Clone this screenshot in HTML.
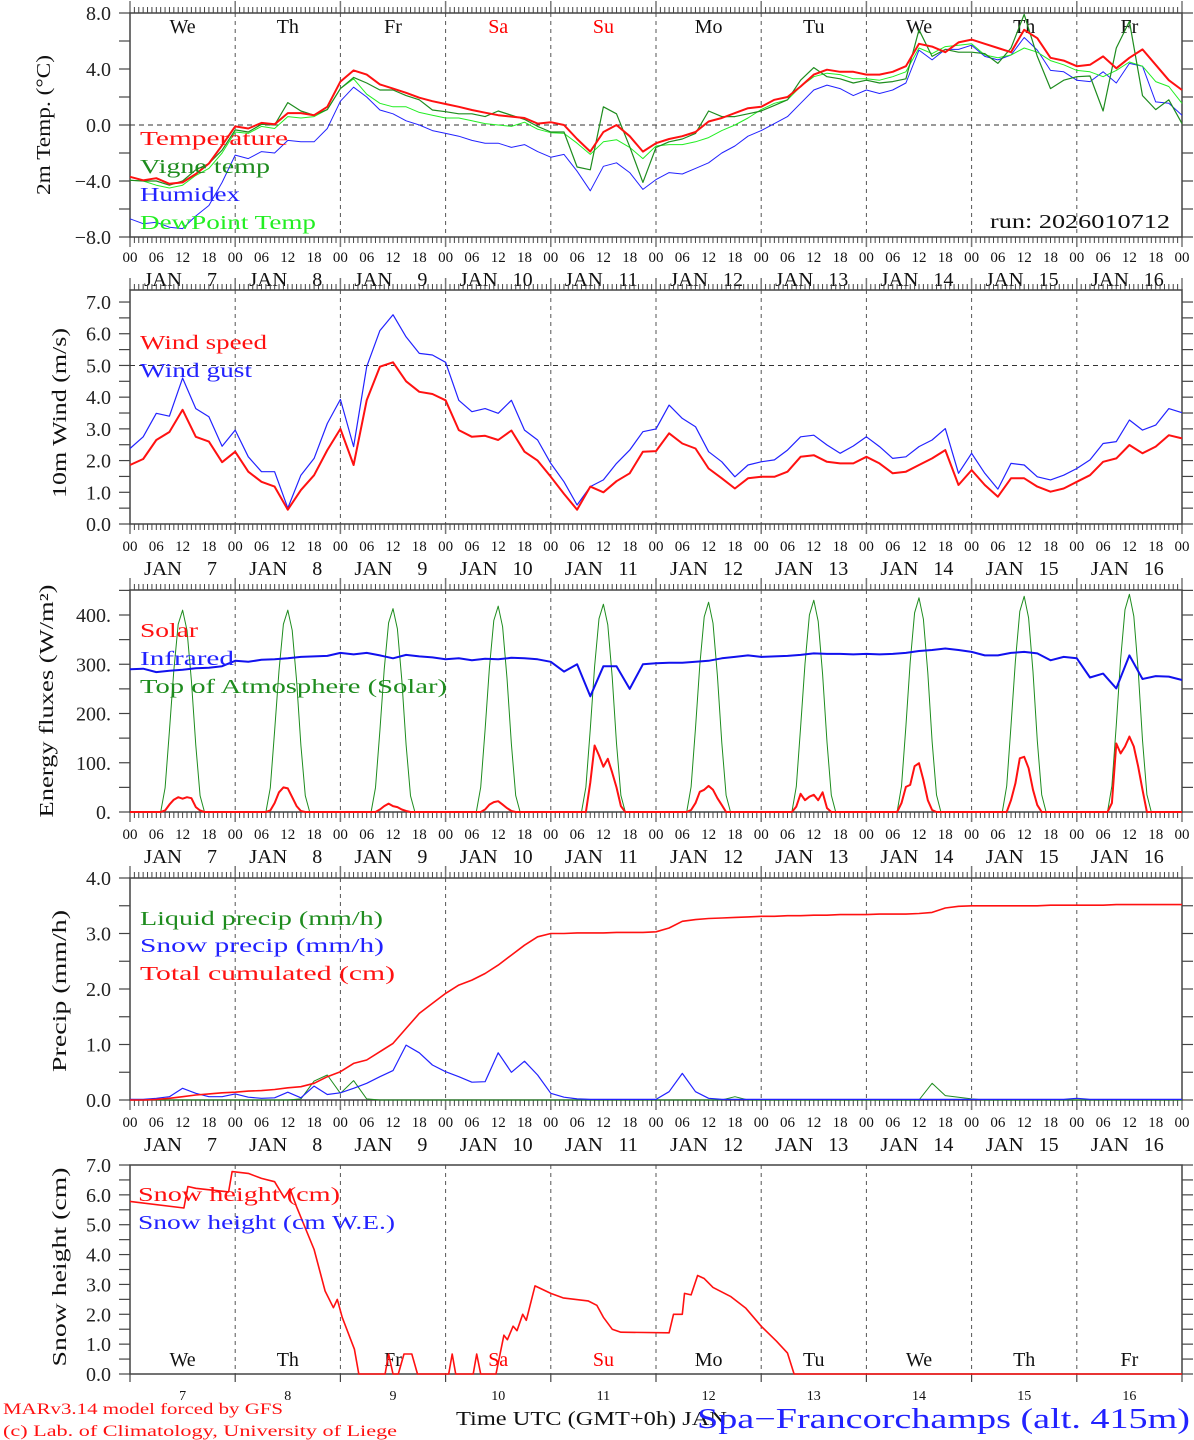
<!DOCTYPE html>
<html><head><meta charset="utf-8"><title>Spa-Francorchamps meteogram</title>
<style>
html,body{margin:0;padding:0;background:#fff;}
svg{display:block;font-family:"Liberation Serif","DejaVu Serif",serif;}
</style></head>
<body>
<svg id="chart" xmlns="http://www.w3.org/2000/svg" width="1194" height="1440" viewBox="0 0 1194 1440">
<rect x="0" y="0" width="1194" height="1440" fill="#fff"/>
</svg>
<script>
// ---------- DATA (3-hourly, 81 values from Jan 7 00h to Jan 17 00h) ----------
const dayNames = ['We','Th','Fr','Sa','Su','Mo','Tu','We','Th','Fr'];
const dayNums = ['7','8','9','10','11','12','13','14','15','16'];
const hourLabels = ['00','06','12','18'];
const tempRed = [-3.7,-3.95,-3.8,-4.2,-4.1,-3.5,-2.75,-1.45, -0.1,-0.25,0.15,0.05,0.85,0.85,0.7,1.3, 3.1,3.9,3.6,2.9,2.6,2.3,1.95,1.7, 1.5,1.3,1.07,0.88,0.7,0.6,0.5,0.1, 0.2,0.0,-1.0,-1.9,-0.5,0.0,-0.8,-1.9, -1.3,-1.0,-0.8,-0.5,0.25,0.5,0.85,1.2, 1.3,1.8,2.0,2.75,3.6,3.95,3.8,3.8, 3.6,3.6,3.8,4.2,5.8,5.6,5.2,5.9, 6.1,5.8,5.5,5.2,6.8,6.2,4.8,4.6, 4.2,4.3,4.9,4.05,4.8,5.4,4.3,3.2, 2.5];
const tempVigne = [-3.95,-4.0,-4.0,-4.3,-4.0,-3.2,-2.75,-1.8, -0.35,-0.5,0.05,0.0,1.6,1.0,0.7,1.1, 2.6,3.4,3.0,2.5,2.5,2.1,1.8,1.07, 0.95,0.8,0.8,0.6,1.0,0.7,0.4,-0.1, -0.5,-0.5,-3.0,-3.2,1.3,0.8,-1.55,-4.1, -1.6,-1.2,-1.0,-0.6,1.0,0.6,0.6,0.8, 1.0,1.4,1.8,3.2,4.1,3.45,3.3,3.0, 3.2,3.0,3.1,3.3,6.8,4.9,5.4,5.2, 5.2,5.1,4.4,5.5,7.9,4.9,2.6,3.2, 3.45,3.5,1.0,5.5,7.4,2.1,1.1,1.8, 0.1];
const tempHumidex = [-6.7,-7.05,-6.95,-7.3,-7.4,-6.5,-5.75,-4.1, -2.15,-2.4,-1.9,-2.0,-1.1,-1.2,-1.2,-0.25, 1.7,2.7,2.0,1.07,0.8,0.3,0.0,-0.4, -0.6,-0.8,-1.1,-1.3,-1.3,-1.6,-1.4,-1.9, -2.3,-2.1,-3.3,-4.7,-2.95,-2.7,-3.4,-4.6, -3.9,-3.4,-3.5,-3.1,-2.7,-2.0,-1.5,-0.8, -0.4,0.1,0.6,1.55,2.5,2.85,2.6,2.1, 2.5,2.25,2.5,3.0,5.35,4.65,5.4,5.4, 5.7,4.9,4.65,5.0,6.25,5.35,3.9,3.8, 3.2,3.1,3.8,3.0,4.4,4.2,1.65,1.55, 0.7];
const tempDew = [-3.95,-4.0,-4.3,-4.5,-4.3,-3.6,-3.1,-2.0, -0.5,-0.6,-0.1,-0.25,0.6,0.5,0.6,1.1, 2.6,3.3,2.2,1.55,1.3,1.3,0.9,0.7, 0.5,0.5,0.3,0.1,0.0,-0.1,0.2,-0.3, -0.55,-0.6,-1.3,-2.1,-1.2,-1.05,-1.6,-2.4, -1.5,-1.4,-1.4,-1.2,-0.9,-0.4,0.0,0.5, 1.1,1.55,1.8,2.75,3.45,3.7,3.6,3.3, 3.3,3.2,3.45,3.8,5.5,5.1,5.6,5.7, 5.8,5.0,4.8,5.0,5.5,5.2,4.6,4.3, 3.9,3.8,3.45,3.9,4.5,4.2,3.1,2.75, 1.55];
const windSpeed = [1.86,2.05,2.65,2.9,3.6,2.75,2.6,1.95, 2.28,1.65,1.33,1.18,0.45,1.07,1.54,2.33, 3.0,1.86,3.9,4.96,5.1,4.5,4.17,4.1, 3.9,2.96,2.75,2.78,2.65,2.95,2.28,2.0, 1.49,0.95,0.45,1.18,1.0,1.35,1.6,2.28, 2.3,2.86,2.54,2.38,1.75,1.44,1.12,1.44, 1.49,1.49,1.65,2.12,2.17,1.96,1.91,1.91, 2.12,1.91,1.6,1.65,1.86,2.07,2.33,1.23, 1.7,1.23,0.86,1.44,1.44,1.18,1.02,1.12, 1.33,1.54,1.96,2.07,2.49,2.23,2.44,2.8, 2.7];
const windGust = [2.38,2.75,3.49,3.4,4.6,3.64,3.38,2.45, 2.96,2.12,1.65,1.65,0.5,1.54,2.07,3.17, 3.93,2.44,4.96,6.1,6.6,5.9,5.38,5.33, 5.1,3.9,3.54,3.64,3.49,3.9,2.96,2.65, 1.91,1.33,0.6,1.18,1.39,1.91,2.33,2.91, 3.0,3.75,3.33,3.07,2.28,1.96,1.49,1.86, 1.96,2.02,2.33,2.75,2.8,2.49,2.23,2.46, 2.75,2.44,2.07,2.12,2.44,2.65,3.01,1.6, 2.23,1.6,1.1,1.91,1.86,1.49,1.39,1.54, 1.75,2.02,2.54,2.6,3.28,2.96,3.12,3.64, 3.51];
const infrared = [290,291,284,287,289,292,293,296, 307,305,309,310,312,315,316,317, 323,320,323,318,312,319,316,314, 310,312,308,311,310,313,312,310, 305,285,300,235,296,296,250,300, 302,303,303,305,307,312,315,318, 315,316,317,319,322,321,321,320, 321,320,321,323,327,329,332,329, 325,318,318,323,325,322,308,315, 312,273,281,251,318,270,276,275, 268];
// solar (W/m2) for hours 8..16 of each day
const solarDay7 = [3,15,25,30,27,30,28,10,3];
const solarDay8 = [3,18,40,50,48,30,12,2,0];
const solarDay9 = [0,5,12,17,12,10,5,2,0];
const solarDay10 = [0,5,15,20,22,15,8,2,0];
const solarDay11 = [0,60,135,115,92,108,80,50,12];
const solarDay12 = [4,18,41,45,53,45,28,14,0];
const solarDay13 = [11,37,24,31,35,24,40,8,0];
const solarDay14 = [18,51,55,93,99,65,24,4,0];
const solarDay15 = [0,24,58,109,112,89,45,14,0];
const solarDay16 = [18,139,119,133,153,133,92,45,0];
const toaPeaks = [410,410,413,418,422,426,430,435,438,442];
const toaProfile = [0,0.12,0.4,0.7,0.93,1.0,0.9,0.65,0.33,0.08,0];
const cumPrecip = [0,0,0.01,0.03,0.06,0.09,0.11,0.13, 0.14,0.16,0.17,0.19,0.22,0.24,0.3,0.42, 0.51,0.66,0.72,0.87,1.02,1.29,1.56,1.74, 1.92,2.07,2.16,2.28,2.43,2.61,2.79,2.94, 3.0,3.0,3.01,3.01,3.01,3.02,3.02,3.02, 3.03,3.1,3.22,3.25,3.27,3.28,3.29,3.3, 3.31,3.31,3.32,3.32,3.33,3.33,3.34,3.34, 3.34,3.35,3.35,3.35,3.36,3.38,3.46,3.49, 3.5,3.5,3.5,3.5,3.5,3.5,3.51,3.51, 3.51,3.51,3.51,3.52,3.52,3.52,3.52,3.52, 3.52];
const snowPrecip = [0.01,0.01,0.03,0.06,0.21,0.12,0.06,0.06, 0.11,0.05,0.03,0.04,0.14,0.04,0.25,0.1, 0.13,0.21,0.3,0.42,0.53,0.99,0.85,0.63, 0.51,0.42,0.32,0.33,0.85,0.5,0.7,0.45, 0.12,0.05,0.02,0.01,0.01,0.01,0.01,0.01, 0.01,0.15,0.48,0.15,0.03,0.01,0.01,0.01, 0.01,0.01,0.01,0.01,0.01,0.01,0.01,0.01, 0.01,0.01,0.01,0.01,0.01,0.01,0.01,0.01, 0.01,0.01,0.01,0.01,0.01,0.01,0.01,0.01, 0.03,0.01,0.01,0.01,0.01,0.01,0.01,0.01, 0.01];
const liquidPrecip = [0,0,0,0,0,0,0,0, 0,0,0,0,0,0.02,0.34,0.45, 0.12,0.35,0.02,0,0,0,0,0, 0,0,0,0,0,0,0,0, 0,0,0,0,0,0,0,0, 0,0,0,0,0,0,0.06,0, 0,0,0,0,0,0,0,0, 0,0,0,0,0,0.3,0.08,0.05, 0.02,0,0,0,0,0,0,0, 0,0,0,0,0,0,0,0, 0];
const snowHours = [0,12.3,13.2,15,22.5,23.3,27,30,33,35.2,36.5,38,42,44.5,46.4,47.3,48.4,51.2,52.2,58.2,59,60,61.2,62.5,64.3,65.6,72.7,73.5,74.3,78.3,79.1,80,83.5,85.3,86.1,87.4,88.3,89.6,90.4,92.4,96,98.8,104.5,106.5,108,110,112,123,124,126,126.5,128,129.5,131,133,137,140.5,144,147.5,150,151.5,240];
const snowCm = [5.78,5.56,6.28,6.22,6.1,6.78,6.72,6.55,6.44,5.9,6.2,5.6,4.17,2.78,2.22,2.5,1.9,0.83,0,0,0.67,0,0,0.67,0.67,0,0,0.67,0,0,0.67,0,0,1.3,1.15,1.6,1.45,2.0,1.8,2.95,2.7,2.55,2.45,2.3,1.9,1.5,1.4,1.38,2.0,2.0,2.7,2.65,3.3,3.2,2.9,2.6,2.2,1.6,1.1,0.7,0,0];

// ---------- HELPERS ----------
const NS = 'http://www.w3.org/2000/svg';
const svg = document.getElementById('chart');
const X0 = 130, X1 = 1182, HOURS = 240;
function xh(h){ return X0 + h*(X1-X0)/HOURS; }
function mk(tag, attrs, parent){
  const e = document.createElementNS(NS, tag);
  for (const k in attrs) e.setAttribute(k, attrs[k]);
  (parent||svg).appendChild(e);
  return e;
}
function txt(x,y,s,size,color,anchor,len){
  const a = {x:x,y:y,'font-size':size,fill:color||'#000','text-anchor':anchor||'start'};
  if(len){ a.textLength=len; a.lengthAdjust='spacingAndGlyphs'; }
  const e = mk('text', a);
  e.textContent = s;
  return e;
}
const panels = [
  {name:'temp', top:13, bot:237, y:v=>125-v*14, tmin:-8, tmax:8, tstep:2, lstep:4, fmt:v=>(v<0?'\u2212':'')+Math.abs(v).toFixed(1), hourly:true},
  {name:'wind', top:290, bot:524, y:v=>524-v*31.71, tmin:0, tmax:7, tstep:0.5, lstep:1, fmt:v=>v.toFixed(1), hourly:true},
  {name:'energy', top:590, bot:812, y:v=>812-v*0.4925, tmin:0, tmax:450, tstep:50, lstep:100, fmt:v=>v+'.', hourly:true},
  {name:'precip', top:878, bot:1100, y:v=>1100-v*55.5, tmin:0, tmax:4, tstep:0.5, lstep:1, fmt:v=>v.toFixed(1), hourly:true},
  {name:'snow', top:1165, bot:1374, y:v=>1374-v*29.857, tmin:0, tmax:7, tstep:0.5, lstep:1, fmt:v=>v.toFixed(1), hourly:false}
];
const rowY = [[262,286],[551,575],[839,863],[1127,1151]];

// ---------- AXES ----------
panels.forEach((p,pi)=>{
  const g = mk('g',{});
  
  
  // day dashed lines
  for(let d=1; d<10; d++){
    const l = mk('line',{x1:xh(d*24),x2:xh(d*24),y1:p.top,y2:p.bot,stroke:'#555','stroke-width':1,'stroke-dasharray':'4,4'},g);
    
    
  }
  // ticks top/bottom
  if(p.hourly){
    for(let h=0; h<=240; h++){
      const major = h%24===0;
      const t1 = mk('line',{x1:xh(h),x2:xh(h),y1:p.top,y2:p.top-(major?12:6),stroke:major?'#777':'#444','stroke-width':major?1.5:1},g);
      
      
      const t2 = mk('line',{x1:xh(h),x2:xh(h),y1:p.bot,y2:p.bot+(major?10:6),stroke:major?'#777':'#444','stroke-width':major?1.5:1},g);
      
      
    }
  } else {
    for(let d=0; d<=10; d++){
      const t2 = mk('line',{x1:xh(d*24),x2:xh(d*24),y1:p.bot,y2:p.bot+8,stroke:'#444','stroke-width':1.2},g);
      
      
    }
  }
  // y ticks
  for(let v=p.tmin; v<=p.tmax+1e-9; v+=p.tstep){
    const yy = p.y(v);
    const a = mk('line',{x1:X0-11,x2:X0,y1:yy,y2:yy,stroke:'#444','stroke-width':1.2},g);
    
    
    const b = mk('line',{x1:X1,x2:X1+11,y1:yy,y2:yy,stroke:'#444','stroke-width':1.2},g);
    
    
  }
  for(let v=p.tmin; v<=p.tmax+1e-9; v+=p.lstep){
    if(p.name==='energy' && v>400) continue;
    const t = txt(111,p.y(v)+7,p.fmt(v),20,'#222','end');
    
    
  }
  // frame
  const fr = mk('rect',{x:X0,y:p.top,width:X1-X0,height:p.bot-p.top,fill:'none',stroke:'#444','stroke-width':1.5},g);
  
  
  // x labels
  if(pi<4){
    for(let d=0; d<10; d++){
      for(let k=0;k<4;k++){
        const t = txt(xh(d*24+k*6),rowY[pi][0],hourLabels[k],15,'#111','middle');
        
        
      }
      const ds = xh(d*24);
      const j = txt(ds+14,rowY[pi][1],'JAN',20,'#111','start',38);
      
      
      const n = txt(ds+87,rowY[pi][1],dayNums[d],20,'#111','end');
      
      
    }
    const e = txt(xh(240),rowY[pi][0],'00',15,'#111','middle');
    
    
  }
});
// horizontal dashed reference lines
[[0,0],[1,5]].forEach(([pi,v])=>{
  const l = mk('line',{x1:X0,x2:X1,y1:panels[pi].y(v),y2:panels[pi].y(v),stroke:'#333','stroke-width':1,'stroke-dasharray':'5,4'});
  
  
});

// weekday labels
for(let d=0; d<10; d++){
  const col = (dayNames[d]==='Sa'||dayNames[d]==='Su') ? '#f00' : '#111';
  const t = txt(xh(d*24+12),33,dayNames[d],20,col,'middle');
  
  
  const t2 = txt(xh(d*24+12),1366,dayNames[d],20,col,'middle');
  
  
  const t3 = txt(xh(d*24+12),1400,dayNums[d],14,'#111','middle');
  
  
}

// ---------- SERIES ----------
function line3h(arr, p, color, w, name){
  const pts = arr.map((v,i)=>xh(i*3).toFixed(1)+','+p.y(v).toFixed(1)).join(' ');
  const e = mk('polyline',{points:pts,fill:'none',stroke:color,'stroke-width':w,'stroke-linejoin':'round'});
  
  
}
function lineXY(hrs, vals, p, color, w, name){
  const pts = vals.map((v,i)=>xh(hrs[i]).toFixed(1)+','+p.y(v).toFixed(1)).join(' ');
  const e = mk('polyline',{points:pts,fill:'none',stroke:color,'stroke-width':w,'stroke-linejoin':'round'});
  
  
}
const P = panels;
line3h(tempHumidex,P[0],'#2222ff',1,'humidex-line');
line3h(tempDew,P[0],'#22ee22',1,'dewpoint-line');
line3h(tempVigne,P[0],'#1e8c1e',1.2,'vigne-temp-line');
line3h(tempRed,P[0],'#ff1111',2,'temperature-line');

line3h(windGust,P[1],'#2222ff',1.2,'wind-gust-line');
line3h(windSpeed,P[1],'#ff1111',2,'wind-speed-line');

// energy: build hourly series from daily arrays
const solarDays = [solarDay7,solarDay8,solarDay9,solarDay10,solarDay11,solarDay12,solarDay13,solarDay14,solarDay15,solarDay16];
const eh=[], toaV=[], solV=[];
for(let d=0; d<10; d++){
  for(let h=0; h<24; h++){
    eh.push(d*24+h);
    toaV.push(h>=7&&h<=17 ? toaPeaks[d]*toaProfile[h-7] : 0);
    solV.push(h>=8&&h<=16 ? solarDays[d][h-8] : 0);
  }
}
eh.push(240); toaV.push(0); solV.push(0);
lineXY(eh,toaV,P[2],'#1e8c1e',1,'toa-solar-line');
line3h(infrared,P[2],'#1111ee',2,'infrared-line');
lineXY(eh,solV,P[2],'#ff1111',2,'solar-line');

line3h(liquidPrecip,P[3],'#1e8c1e',1,'liquid-precip-line');
line3h(snowPrecip,P[3],'#2222ff',1.2,'snow-precip-line');
line3h(cumPrecip,P[3],'#ff1111',1.6,'total-cumulated-line');

lineXY(snowHours,snowCm,P[4],'#ff1111',1.6,'snow-height-line');

// ---------- LEGENDS & TITLES ----------
const legends = [
  [140,145,'Temperature','#ff1111',148],[140,173,'Vigne temp','#1e8c1e',130],[140,201,'Humidex','#2222ff',100],[140,229,'DewPoint Temp','#22ee22',176],
  [140,349,'Wind speed','#ff1111',127],[140,377,'Wind gust','#2222ff',112],
  [140,637,'Solar','#ff1111',58],[140,665,'Infrared','#2222ff',94],[140,693,'Top of Atmosphere (Solar)','#1e8c1e',307],
  [140,925,'Liquid precip (mm/h)','#1e8c1e',243],[140,952,'Snow precip (mm/h)','#2222ff',244],[140,980,'Total cumulated (cm)','#ff1111',255],
  [138,1201,'Snow height (cm)','#ff1111',202],[138,1229,'Snow height (cm W.E.)','#2222ff',257]
];
legends.forEach(l=>{
  const t = txt(l[0],l[1],l[2],20,l[3],'start',l[4]);
  
  
});
const ytitles = [[50,125,'2m Temp. (\u00B0C)',140],[66,413,'10m Wind (m/s)',170],[53,701,'Energy fluxes (W/m\u00B2)',233],[66,991,'Precip (mm/h)',162],[66,1267,'Snow height (cm)',199]];
ytitles.forEach(t=>{
  const e = mk('text',{x:0,y:0,'font-size':20,fill:'#111','text-anchor':'middle',textLength:t[3],lengthAdjust:'spacingAndGlyphs',transform:'translate('+t[0]+','+t[1]+') rotate(-90)'});
  e.textContent = t[2];
  
  
});
const run = txt(990,228,'run: 2026010712',20,'#111','start',180);


const c1 = txt(3,1414,'MARv3.14 model forced by GFS',16,'#ff1111','start',280);


const c2 = txt(3,1436,'(c) Lab. of Climatology, University of Liege',16,'#ff1111','start',394);


const xt = txt(456,1425,'Time UTC (GMT+0h) JAN',20,'#111','start',271);


const st = txt(697,1428,'Spa\u2212Francorchamps (alt. 415m)',28,'#2222ff','start',493);


</script>
</body></html>
